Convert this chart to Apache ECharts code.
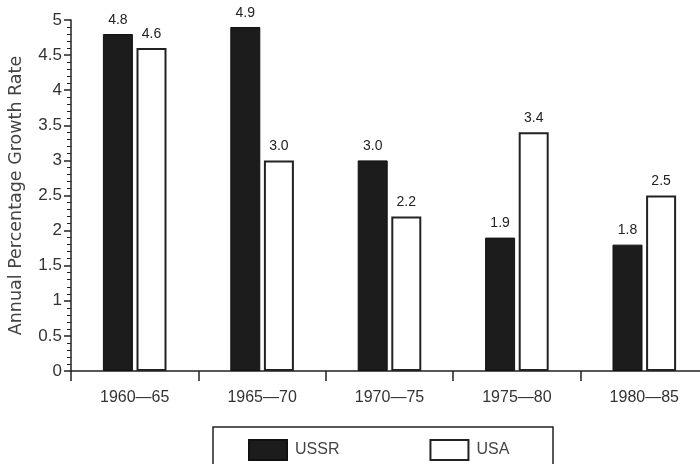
<!DOCTYPE html>
<html><head><meta charset="utf-8">
<script src="https://cdn.jsdelivr.net/npm/echarts@6/dist/echarts.min.js"></script>
<style>html,body{margin:0;padding:0;background:#fff}#c{width:700px;height:464px}</style>
</head><body><div id="c"></div>
<script>
const categories = ['1960—65', '1965—70', '1970—75', '1975—80', '1980—85'];
const ussr = [4.8, 4.9, 3.0, 1.9, 1.8];
const usa = [4.6, 3.0, 2.2, 3.4, 2.5];
const yTicks = ['0', '0.5', '1', '1.5', '2', '2.5', '3', '3.5', '4', '4.5', '5'];

const chart = echarts.init(document.getElementById('c'));
const FONT = 'Liberation Sans, Arial';
const labelStyle = {show: true, position: 'top', distance: 7, fontFamily: FONT, fontSize: 14, color: '#222', formatter: p => p.value.toFixed(1)};
chart.setOption({
  animation: false,
  backgroundColor: '#fff',
  grid: {left: 71, right: -8, top: 20, bottom: 93, containLabel: false, outerBoundsMode: 'none'},
  graphic: [{type: 'rect', shape: {x: 213, y: 427, width: 340, height: 60}, style: {fill: 'none', stroke: '#222', lineWidth: 1.5}, z: 0}],
  legend: {
    left: 243, top: 434, itemWidth: 38, itemHeight: 20, itemGap: 90,
    icon: 'rect',
    textStyle: {fontFamily: FONT, fontSize: 16, color: '#444', padding: [0, 0, 0, 3]},
    data: ['USSR', 'USA']
  },
  xAxis: {
    type: 'category', data: categories,
    axisLine: {lineStyle: {color: '#222', width: 1.5}},
    axisTick: {show: true, length: 10, inside: false, lineStyle: {color: '#222', width: 1.5}},
    axisLabel: {fontFamily: FONT, fontSize: 16, color: '#333', margin: 19}
  },
  yAxis: {
    type: 'value', min: 0, max: 5, interval: 0.5,
    name: 'Annual Percentage Growth Rate', nameLocation: 'middle', nameGap: 46,
    nameTextStyle: {fontFamily: 'DejaVu Sans', fontSize: 17.5, color: '#444'},
    axisLine: {show: true, lineStyle: {color: '#222', width: 1.5}},
    axisTick: {show: true, length: 7, lineStyle: {color: '#222', width: 1.5}},
    minorTick: {show: true, splitNumber: 5, length: 4, lineStyle: {color: '#222', width: 1}},
    splitLine: {show: false},
    axisLabel: {fontFamily: FONT, fontSize: 17, color: '#333', margin: 9,
      formatter: v => yTicks[Math.round(v * 2)]}
  },
  series: [
    {name: 'USSR', type: 'bar', data: ussr, barWidth: 30, barGap: '12%',
     itemStyle: {color: '#1c1c1c', borderColor: '#111', borderWidth: 1}, label: labelStyle},
    {name: 'USA', type: 'bar', data: usa, barWidth: 30,
     itemStyle: {color: '#fff', borderColor: '#222', borderWidth: 2}, label: labelStyle}
  ]
});
</script></body></html>
